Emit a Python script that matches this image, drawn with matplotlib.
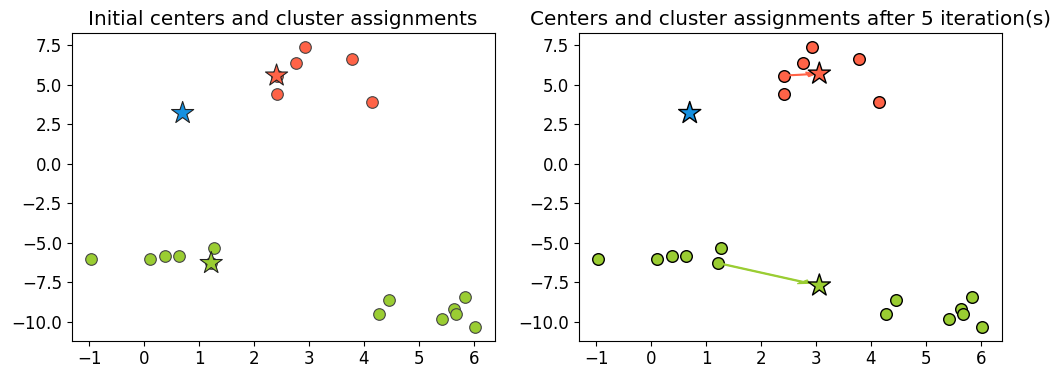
import matplotlib
matplotlib.use("Agg")
import matplotlib.pyplot as plt

plt.rcParams['font.size'] = 12

# --- data points ---
red_x = [2.93, 2.77, 3.79, 2.41, 4.15, 2.41]
red_y = [7.36, 6.37, 6.62, 4.42, 3.92, 5.57]

green_x = [-0.97, 0.11, 0.37, 0.63, 1.27, 1.22, 4.45, 4.28, 5.42, 5.64, 5.68, 5.84, 6.03]
green_y = [-6.01, -6.00, -5.86, -5.86, -5.31, -6.28, -8.60, -9.50, -9.79, -9.16, -9.50, -8.40, -10.30]

# centers: blue, red, green
center_colors = ['#1590e0', '#ff6347', '#9acd32']
init_cx = [0.70, 2.41, 1.22]
init_cy = [3.20, 5.57, -6.28]
final_cx = [0.70, 3.06, 3.06]
final_cy = [3.20, 5.69, -7.70]

fig, axes = plt.subplots(1, 2, figsize=(10.59, 3.76), dpi=100)
plt.subplots_adjust(left=0.0677, right=0.9459, top=0.9114, bottom=0.0939, wspace=0.199)

# 1. initial
ax = axes[0]
ax.scatter(red_x, red_y, s=70, color=center_colors[1], edgecolor='#444444', linewidth=0.8, zorder=2)
ax.scatter(green_x, green_y, s=70, color=center_colors[2], edgecolor='#444444', linewidth=0.8, zorder=2)
ax.scatter(init_cx, init_cy, s=280, marker='*', color=center_colors,
           edgecolor='#222222', linewidth=0.8, zorder=3)
ax.set_title("Initial centers and cluster assignments")

# 2. after iterations
ax = axes[1]
ax.scatter(red_x, red_y, s=70, color=center_colors[1], edgecolor='k', linewidth=1.0, zorder=2)
ax.scatter(green_x, green_y, s=70, color=center_colors[2], edgecolor='k', linewidth=1.0, zorder=2)
for i in range(3):
    dx = final_cx[i] - init_cx[i]
    dy = final_cy[i] - init_cy[i]
    if dx == 0 and dy == 0:
        continue
    ax.arrow(init_cx[i], init_cy[i], 0.9 * dx, 0.9 * dy, width=0.06,
             head_width=0.3, head_length=0.16, length_includes_head=True,
             color=center_colors[i], lw=0.8, zorder=2.5)
ax.scatter(final_cx, final_cy, s=280, marker='*', color=center_colors,
           edgecolor='k', linewidth=1.0, zorder=3)
ax.set_title("Centers and cluster assignments after 5 iteration(s)")

plt.savefig("out.png")
